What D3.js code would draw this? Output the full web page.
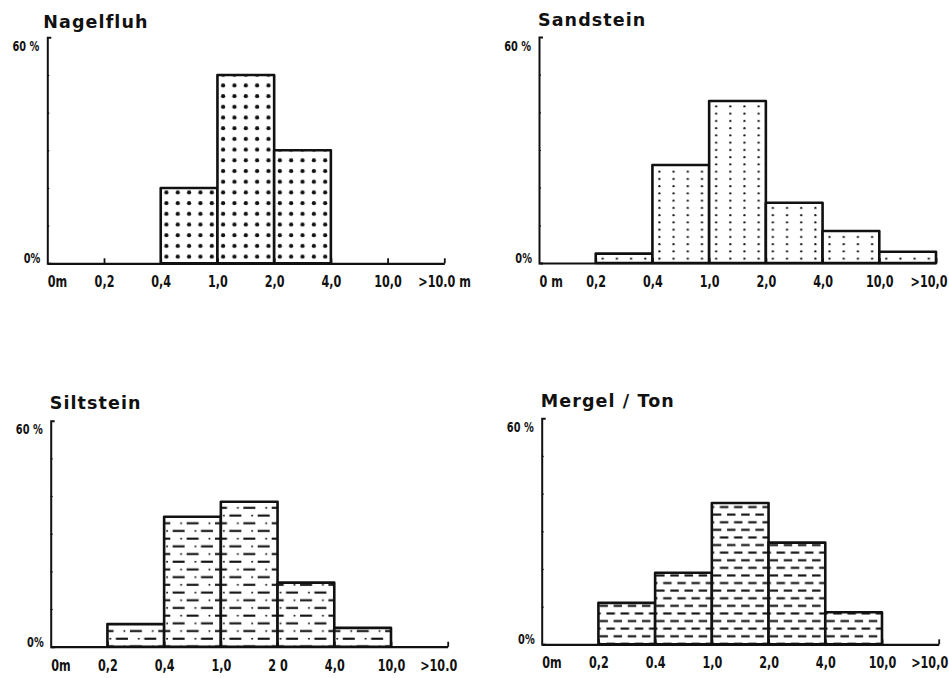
<!DOCTYPE html>
<html>
<head>
<meta charset="utf-8">
<script src="https://cdn.jsdelivr.net/npm/d3@7"></script>
<style>
  html, body { margin: 0; padding: 0; background: #ffffff; }
  svg { display: block; }
</style>
</head>
<body>
<script>
// ---- data ----
const categories = ["0–0,2", "0,2–0,4", "0,4–1,0", "1,0–2,0", "2,0–4,0", "4,0–10,0", ">10,0"];
const nagelfluh  = [0, 0, 20, 50, 30, 0, 0];
const sandstein  = [0, 2.5, 26, 43, 16, 8.5, 3];
const siltstein  = [0, 6, 34.5, 38.5, 17, 5, 0];
const mergelTon  = [0, 11, 19, 37.5, 27, 8.5, 0];

const ticksNagelfluh = ["0m", "0,2", "0,4", "1,0", "2,0", "4,0", "10,0", ">10.0 m"];
const ticksSandstein = ["0 m", "0,2", "0,4", "1,0", "2,0", "4,0", "10,0", ">10,0"];
const ticksSiltstein = ["0m", "0,2", "0,4", "1,0", "2 0", "4,0", "10,0", ">10.0"];
const ticksMergel    = ["0m", "0,2", "0.4", "1,0", "2,0", "4,0", "10,0", ">10,0"];

const titles = ["Nagelfluh", "Sandstein", "Siltstein", "Mergel / Ton"];
const yTickValues = [0, 10, 20, 30, 40, 50, 60];
const yMax = 60;

// ---- layout ----
const W = 949, H = 678;
const plotW = 397, plotH = 226;
const SX = 0.7; // horizontal compression of the condensed label font
const panels = [
  { title: titles[0], values: nagelfluh, ticks: ticksNagelfluh, x0: 47.3,  y0: 263.3, tdx: -4, tdy: -9,  pat: "dots", lastDx: 26 },
  { title: titles[1], values: sandstein, ticks: ticksSandstein, x0: 539,   y0: 263,   tdx: -1, tdy: -11, pat: "fine", lastDx: 11 },
  { title: titles[2], values: siltstein, ticks: ticksSiltstein, x0: 50.7,  y0: 646.7, tdx: -1, tdy: -11.5, pat: "silt", lastDx: 9 },
  { title: titles[3], values: mergelTon, ticks: ticksMergel,    x0: 541.7, y0: 644.3, tdx: -1, tdy: -11.5, pat: "dash", lastDx: 9 }
];

const svg = d3.select("body").append("svg")
  .attr("width", W).attr("height", H)
  .attr("viewBox", `0 0 ${W} ${H}`);
const defs = svg.append("defs");

const labelFont = "'DejaVu Sans', 'Liberation Sans', sans-serif";
const titleFont = "'DejaVu Sans', 'Liberation Sans', sans-serif";

panels.forEach((p, i) => {
  const x = d3.scaleBand().domain(categories).range([p.x0, p.x0 + plotW]).padding(0);
  const xb = d3.scalePoint().domain(p.ticks).range([p.x0, p.x0 + plotW]);
  const y = d3.scaleLinear().domain([0, yMax]).range([p.y0, p.y0 - plotH]);
  const bw = x.bandwidth();

  // pattern per panel, anchored at the panel origin
  const id = "pat" + i;
  const pat = defs.append("pattern").attr("id", id)
    .attr("patternUnits", "userSpaceOnUse")
    .attr("patternTransform", `translate(${p.x0},${p.y0})`);
  pat.append("rect").attr("width", 100).attr("height", 100).attr("fill", "#fff");
  if (p.pat === "dots") {
    const pw = bw / 5, ph = 10.7;
    pat.attr("width", pw).attr("height", ph);
    pat.append("circle").attr("cx", pw / 2).attr("cy", ph - 6.6).attr("r", 2.1).attr("fill", "#111");
  } else if (p.pat === "fine") {
    const pw = bw / 4, ph = 7.25;
    pat.attr("width", pw).attr("height", ph);
    pat.append("circle").attr("cx", 7).attr("cy", ph - 4.4).attr("r", 1.1).attr("fill", "#111");
  } else if (p.pat === "silt") {
    const pw = bw / 2, ph = 15.4;
    pat.attr("width", pw).attr("height", ph);
    const ya = 7.4, yb = 15.1;
    pat.append("circle").attr("cx", 3).attr("cy", ya).attr("r", 1).attr("fill", "#111");
    pat.append("rect").attr("x", 8.5).attr("y", ya - 1).attr("width", 12).attr("height", 2.1).attr("fill", "#111");
    [yb, yb - ph].forEach(yy => {
      pat.append("circle").attr("cx", 17).attr("cy", yy).attr("r", 1).attr("fill", "#111");
      pat.append("rect").attr("x", 22.5).attr("y", yy - 1).attr("width", pw - 22.5).attr("height", 2.1).attr("fill", "#111");
      pat.append("rect").attr("x", 0).attr("y", yy - 1).attr("width", 34.5 - pw).attr("height", 2.1).attr("fill", "#111");
    });
  } else {
    const pw = bw / 4, ph = 15.2;
    pat.attr("width", pw).attr("height", ph);
    const ya = 7.1, yb = 14.7;
    pat.append("rect").attr("x", 1).attr("y", ya - 1).attr("width", 8.5).attr("height", 2.1).attr("fill", "#111");
    [yb, yb - ph].forEach(yy => {
      pat.append("rect").attr("x", 8).attr("y", yy - 1).attr("width", pw - 8).attr("height", 2.1).attr("fill", "#111");
      pat.append("rect").attr("x", 0).attr("y", yy - 1).attr("width", 16.5 - pw).attr("height", 2.1).attr("fill", "#111");
    });
  }

  const g = svg.append("g");

  // bars
  g.selectAll("rect.bar")
    .data(categories.map((c, k) => ({ c, v: p.values[k] })).filter(d => d.v > 0))
    .join("rect").attr("class", "bar")
    .attr("x", d => x(d.c))
    .attr("y", d => y(d.v))
    .attr("width", bw)
    .attr("height", d => y(0) - y(d.v))
    .attr("fill", `url(#${id})`)
    .attr("stroke", "#111")
    .attr("stroke-width", 2.6)
    .attr("stroke-linejoin", "round");

  // x axis
  const xa = g.append("g").attr("transform", `translate(0,${p.y0})`)
    .call(d3.axisBottom(xb).tickSizeInner(-5).tickSizeOuter(0));
  xa.select(".domain").attr("stroke", "#111").attr("stroke-width", 2.2);
  xa.selectAll(".tick line").attr("stroke", "#111").attr("stroke-width", 1.8);
  xa.selectAll(".tick text")
    .attr("y", null).attr("dy", null)
    .attr("transform", `translate(0,24) scale(${SX},1)`)
    .attr("fill", "#111")
    .style("font-family", labelFont)
    .style("font-weight", "bold")
    .style("font-size", "16px");
  const nT = p.ticks.length;
  xa.selectAll(".tick").filter((d, k) => k === 0).select("text").attr("text-anchor", "start");
  xa.selectAll(".tick").filter((d, k) => k === 0).select("line").remove();
  xa.selectAll(".tick").filter((d, k) => k === nT - 1).select("text")
    .attr("text-anchor", "end")
    .attr("transform", `translate(${p.lastDx},24) scale(${SX},1)`);

  // y axis
  const ya = g.append("g").attr("transform", `translate(${p.x0},0)`)
    .call(d3.axisRight(y).tickValues(yTickValues.slice(1, -1)).tickSizeInner(2).tickSizeOuter(4).tickFormat(""));
  ya.select(".domain").attr("stroke", "#111").attr("stroke-width", 2);
  ya.selectAll(".tick line").attr("stroke", "#111").attr("stroke-width", 1.2);

  // y labels
  g.append("text")
    .attr("transform", `translate(${p.x0 - 8},${y(yMax) + 13.5}) scale(${SX},1)`)
    .attr("text-anchor", "end")
    .style("font-family", labelFont).style("font-weight", "bold").style("font-size", "14px")
    .attr("fill", "#111")
    .text(yTickValues[yTickValues.length - 1] + " %");
  g.append("text")
    .attr("transform", `translate(${p.x0 - 7},${y(0)}) scale(${SX},1)`)
    .attr("text-anchor", "end")
    .style("font-family", labelFont).style("font-weight", "bold").style("font-size", "14px")
    .attr("fill", "#111")
    .text(yTickValues[0] + "%");

  // title
  g.append("text")
    .attr("x", p.x0 + p.tdx).attr("y", y(yMax) + p.tdy)
    .style("font-family", titleFont).style("font-weight", "bold").style("font-size", "17.5px")
    .style("letter-spacing", "1.1px")
    .attr("fill", "#111")
    .text(p.title);
});
</script>
</body>
</html>
